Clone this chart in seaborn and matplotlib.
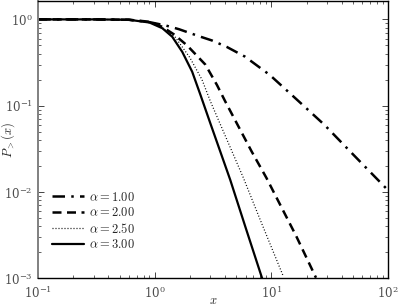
import matplotlib
matplotlib.use("Agg")
import matplotlib.pyplot as plt
import seaborn as sns
import pandas as pd

# values (complementary CDF, log-log)
x_a1 = [0.1, 0.3, 0.6, 0.9, 1.24, 1.61, 2.38, 3.09, 4.14, 5.94, 9.69, 18.0, 28.5, 50.0, 100.0]
p_a1 = [1.0, 1.0, 0.99, 0.93, 0.85, 0.77, 0.64, 0.57, 0.48, 0.37, 0.227, 0.106, 0.060, 0.0274, 0.0105]

x_a2 = [0.1, 0.3, 0.6, 0.9, 1.16, 1.46, 1.89, 2.71, 3.41, 4.02, 6.76, 9.06, 16.3, 24.1]
p_a2 = [1.0, 1.0, 0.99, 0.94, 0.82, 0.67, 0.50, 0.30, 0.174, 0.112, 0.0296, 0.0146, 0.0031, 0.00102]

x_a25 = [0.1, 0.3, 0.6, 0.9, 1.16, 1.5, 2.0, 2.54, 3.0, 4.0, 5.75, 8.0, 12.6]
p_a25 = [1.0, 1.0, 0.99, 0.93, 0.80, 0.62, 0.36, 0.20, 0.112, 0.0455, 0.0146, 0.0048, 0.00107]

x_a3 = [0.1, 0.3, 0.6, 0.9, 1.16, 1.41, 1.72, 2.09, 2.46, 3.0, 4.43, 6.0, 8.33]
p_a3 = [1.0, 1.0, 0.99, 0.92, 0.79, 0.63, 0.42, 0.248, 0.134, 0.062, 0.0139, 0.0039, 0.001]

labels = [r"$\alpha = 1.00$", r"$\alpha = 2.00$", r"$\alpha = 2.50$", r"$\alpha = 3.00$"]

sns.set_style("ticks")
plt.rcParams["font.family"] = ["DejaVu Serif"]
plt.rcParams["mathtext.fontset"] = "cm"

fig, ax = plt.subplots(figsize=(3.98, 3.06), dpi=100)
fig.subplots_adjust(left=0.096, right=0.975, bottom=0.09, top=0.998)

series = [
    (x_a1, p_a1, (0, (5, 2.5, 1, 2.5)), 1.8),
    (x_a2, p_a2, (0, (3.6, 2.2)), 1.8),
    (x_a25, p_a25, (0, (0.8, 1.6)), 0.9),
    (x_a3, p_a3, "-", 1.6),
]
for (xs, ps, ls, lw), lab in zip(series, labels):
    df = pd.DataFrame({"x": xs, "p": ps})
    sns.lineplot(data=df, x="x", y="p", ax=ax, color="k", linestyle=ls,
                 linewidth=lw, label=lab, estimator=None, sort=False)

ax.set_xscale("log")
ax.set_yscale("log")
ax.set_xlim(0.1, 100)
ax.set_ylim(1e-3, 1.65)
ax.set_xlabel(r"$x$", fontsize=9)
ax.set_ylabel(r"$P_>(x)$", fontsize=9)
ax.xaxis.set_label_coords(0.5, -0.055)
ax.yaxis.set_label_coords(-0.06, 0.5)

ax.tick_params(which="both", direction="in", top=True, right=True, labelsize=8.5,
               labelcolor="0.3")
ax.tick_params(axis="x", pad=4.5)
ax.tick_params(axis="y", pad=4)
ax.tick_params(which="major", length=4, width=0.6)
ax.tick_params(which="minor", length=2, width=0.5)
for s in ax.spines.values():
    s.set_linewidth(1.0)
    s.set_color("k")
ax.spines["left"].set_color("0.5")
ax.spines["left"].set_linewidth(1.4)

leg = ax.legend(loc="lower left", frameon=False, fontsize=9, handlelength=2.6,
                handletextpad=0.4, labelspacing=0.2, borderpad=0.4, borderaxespad=0,
                bbox_to_anchor=(0.025, 0.08))

fig.savefig("out.png", dpi=100)
